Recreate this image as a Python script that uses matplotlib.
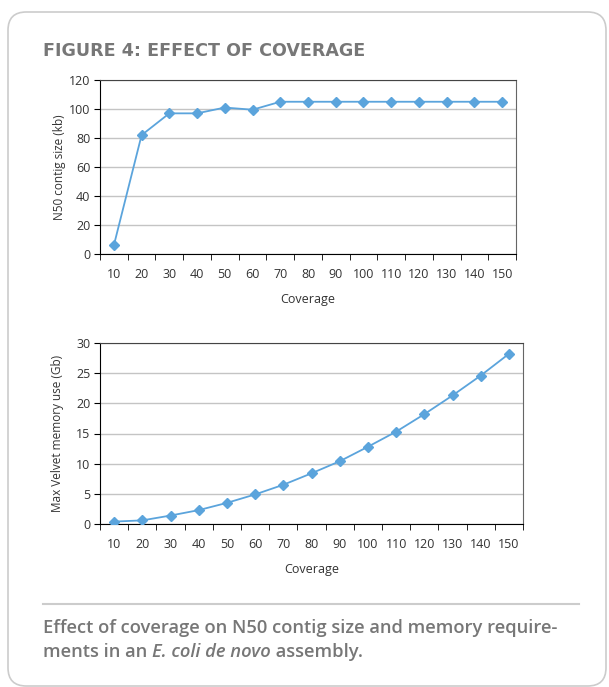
import numpy as np
import matplotlib.pyplot as plt
from matplotlib.patches import FancyBboxPatch
from matplotlib.ticker import FixedLocator

coverage = ["10", "20", "30", "40", "50", "60", "70", "80", "90", "100",
            "110", "120", "130", "140", "150"]
n50_kb = [6, 82, 97, 97, 101, 99.5, 105, 105, 105, 105, 105, 105, 105, 105, 105]
memory_gb = [0.4, 0.6, 1.4, 2.3, 3.5, 4.9, 6.5, 8.4, 10.4, 12.8, 15.3, 18.2,
             21.3, 24.6, 28.2]

W, H = 609, 687
blue = "#5BA4DC"
grey_text = "#777777"

fig = plt.figure(figsize=(W / 100, H / 100), dpi=100)
renderer = fig.canvas.get_renderer()


def fit_text(x, y, s, width, **kw):
    # shrink/grow font so the line spans the given pixel width
    t = fig.text(x / W, 1 - y / H, s, **kw)
    w = t.get_window_extent(renderer).width
    t.set_fontsize(t.get_fontsize() * width / w)
    return t


# rounded frame around the whole figure
frame = FancyBboxPatch((8 / W, 1 - 686 / H), 598 / W, 674 / H,
                       boxstyle="round,pad=0,rounding_size=0.03",
                       transform=fig.transFigure, fill=False,
                       edgecolor="#CCCCCC", linewidth=1.2, mutation_aspect=W / H)
fig.patches.append(frame)

fit_text(43, 56, "FIGURE 4: EFFECT OF COVERAGE", 320, family="DejaVu Sans",
         weight="bold", fontsize=13, color=grey_text, va="baseline", ha="left")


def panel(rect, values, ymax, ystep, ylabel, label_x):
    ax = fig.add_axes(rect)
    ax.plot(coverage, values, color=blue, lw=1.3, marker="D", ms=5.5,
            mec=blue, mfc=blue, zorder=3)
    ax.set_xlim(-0.5, len(coverage) - 0.5)
    ax.set_ylim(0, ymax)
    ax.set_yticks(np.arange(0, ymax + 1, ystep))
    ax.yaxis.grid(True, color="#C4C4C4", lw=1)
    ax.set_axisbelow(True)
    ax.xaxis.set_minor_locator(FixedLocator(np.arange(-0.5, len(coverage), 1)))
    ax.tick_params(axis="x", which="major", length=0, pad=10)
    ax.tick_params(axis="x", which="minor", length=4, direction="out", color="black")
    ax.tick_params(axis="y", length=4, direction="out", pad=3)
    ax.tick_params(labelsize=9, labelcolor="#333333")
    for lab in ax.get_xticklabels() + ax.get_yticklabels():
        lab.set_family("Open Sans")
    ax.spines["left"].set_color("black")
    ax.spines["bottom"].set_color("black")
    ax.spines["top"].set_color("#444444")
    ax.spines["right"].set_color("#666666")
    ax.set_xlabel("Coverage", family="Open Sans", fontsize=9, color="#333333",
                  labelpad=9)
    ax.set_ylabel(ylabel, family="Open Sans", fontsize=8.5, color="#333333")
    ax.yaxis.set_label_coords((label_x - 100) / (rect[2] * W), 0.5)
    return ax


panel([100 / W, 1 - 254 / H, 416 / W, 174 / H], n50_kb, 120, 20,
      "N50 contig size (kb)", 66)
panel([100 / W, 1 - 524 / H, 423 / W, 181 / H], memory_gb, 30, 5,
      "Max Velvet memory use (Gb)", 64)

fig.add_artist(plt.Line2D([43 / W, 579 / W], [1 - 604 / H, 1 - 604 / H],
                          transform=fig.transFigure, color="#CCCCCC", lw=1.5))

cap_kw = dict(family="Open Sans", weight="semibold", fontsize=12, color=grey_text,
              va="baseline", ha="left")
first = fit_text(43, 633,
                 "Effect of coverage on N50 contig size and memory require-",
                 515, **cap_kw)
cap_kw["fontsize"] = first.get_fontsize()

# second caption line with an italic species name
x0 = 43
for piece, style in [("ments in an ", "normal"), ("E. coli de novo", "italic"),
                     (" assembly.", "normal")]:
    t = fig.text(x0 / W, 1 - 657 / H, piece, style=style, **cap_kw)
    x0 += t.get_window_extent(renderer).width

plt.savefig("out.png", dpi=100)
